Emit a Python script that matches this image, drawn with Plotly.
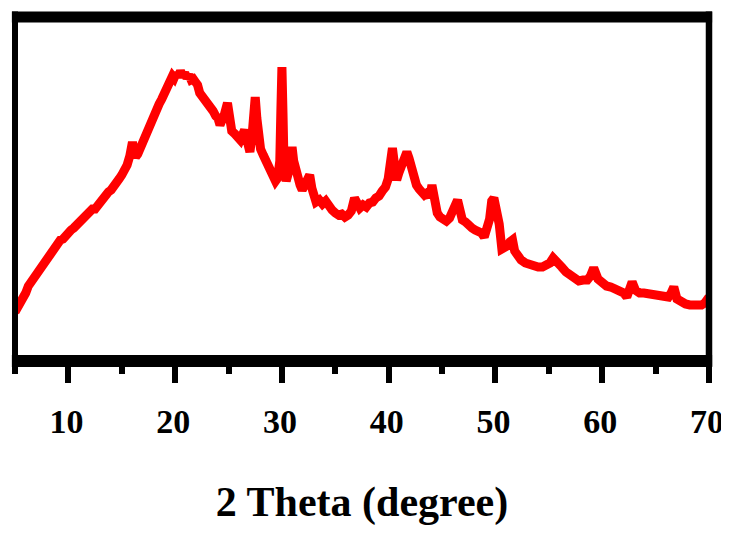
import plotly.graph_objects as go

# 2-theta positions (degree) and intensity (a.u.)
two_theta = [5.0, 5.25, 5.5, 5.75, 6.0, 6.25, 6.5, 6.75, 7.0, 7.25, 7.5, 7.75, 8.0, 8.25, 8.5, 8.75,
             9.0, 9.25, 9.5, 9.75, 10.0, 10.25, 10.5, 10.75, 11.0, 11.25, 11.5, 11.75, 12.0, 12.25,
             12.5, 12.75, 13.0, 13.25, 13.5, 13.75, 14.0, 14.25, 14.5, 14.75, 15.0, 15.25, 15.5,
             15.75, 16.0, 16.15, 16.3, 16.5, 16.75, 17.0, 17.25, 17.5, 17.75, 18.0, 18.25, 18.5,
             18.75, 19.0, 19.25, 19.5, 19.75, 19.9, 20.1, 20.3, 20.5, 20.7, 20.9, 21.1, 21.3, 21.5,
             21.7, 21.9, 22.1, 22.3, 22.55, 22.8, 23.05, 23.3, 23.55, 23.8, 24.0, 24.2, 24.4, 24.6,
             24.9, 25.1, 25.3, 25.6, 25.85, 26.1, 26.3, 26.5, 26.7, 26.85, 27.0, 27.2, 27.35, 27.5,
             27.65, 27.8, 28.0, 28.25, 28.5, 28.75, 29.0, 29.2, 29.4, 29.6, 29.8, 29.9, 30.0, 30.1,
             30.2, 30.4, 30.6, 30.8, 30.95, 31.1, 31.3, 31.5, 31.7, 31.9, 32.1, 32.35, 32.6, 32.8,
             33.0, 33.2, 33.5, 33.8, 34.1, 34.4, 34.7, 35.0, 35.3, 35.6, 35.9, 36.2, 36.5, 36.8,
             37.0, 37.3, 37.6, 37.9, 38.2, 38.5, 38.8, 39.1, 39.4, 39.7, 39.95, 40.15, 40.35, 40.55,
             40.75, 40.95, 41.2, 41.45, 41.7, 41.9, 42.1, 42.35, 42.6, 42.85, 43.1, 43.35, 43.6,
             43.85, 44.05, 44.3, 44.55, 44.8, 45.1, 45.4, 45.7, 46.0, 46.2, 46.45, 46.7, 46.9, 47.2,
             47.5, 47.8, 48.1, 48.4, 48.7, 48.95, 49.2, 49.45, 49.65, 49.85, 50.1, 50.35, 50.6,
             50.85, 51.1, 51.35, 51.6, 51.8, 52.05, 52.4, 52.8, 53.2, 53.6, 54.0, 54.4, 54.8, 55.1,
             55.4, 55.8, 56.2, 56.6, 57.0, 57.4, 57.8, 58.2, 58.6, 58.9, 59.2, 59.6, 60.0, 60.4,
             60.8, 61.2, 61.6, 62.0, 62.3, 62.55, 62.8, 63.1, 63.5, 63.9, 64.3, 64.7, 65.1, 65.5,
             65.9, 66.2, 66.45, 66.7, 67.0, 67.4, 67.8, 68.2, 68.6, 69.0, 69.3, 69.6, 69.85, 70.0]
intensity = [49, 53, 58, 64, 68, 75, 79, 85, 88, 93, 96, 101, 104, 108, 111, 114,
             117, 121, 122, 126, 128, 131, 133, 136, 138, 142, 143, 146, 148, 152,
             152, 156, 158, 162, 164, 169, 171, 176, 178, 182, 186, 190, 196,
             205, 219, 209, 204, 207, 214, 220, 227, 233, 240, 246, 252, 257,
             262, 268, 274, 279, 285, 283, 288, 284, 290, 285, 288, 283, 286, 281,
             282, 279, 276, 268, 265, 261, 257, 254, 250, 245, 243, 236, 240, 246,
             258, 236, 230, 227, 224, 221, 226, 231, 222, 214, 209, 225, 248, 264,
             243, 222, 212, 206, 201, 196, 189, 184, 180, 183, 200, 250, 294, 248,
             195, 180, 188, 205, 214, 200, 190, 181, 176, 171, 176, 182, 186, 173,
             165, 159, 161, 157, 160, 153, 151, 148, 146, 147, 144, 146, 150, 163,
             156, 153, 156, 154, 158, 159, 163, 165, 170, 174, 182, 200, 213, 196,
             181, 188, 197, 203, 209, 203, 192, 182, 176, 172, 170, 166, 168,
             164, 176, 158, 148, 144, 142, 140, 143, 148, 155, 161, 150, 141, 139,
             135, 133, 131, 130, 128, 124, 132, 142, 160, 163, 150, 137, 112,
             113, 115, 119, 121, 110, 104, 101, 98, 96, 95, 94, 94, 95, 98, 103,
             97, 94, 89, 85, 82, 80, 81, 81, 85, 93, 82, 78, 75, 74,
             72, 71, 68, 64, 70, 79, 71, 68, 68, 67, 68, 66, 64, 63,
             64, 68, 74, 62, 58, 57, 56, 56, 55, 56, 58, 60, 64, 68]

tick_vals = [10, 20, 30, 40, 50, 60, 70]
tick_text = ["10", "20", "30", "40", "50", "60", "70"]
x_title = "2 Theta (degree)"

fig = go.Figure()
fig.add_trace(go.Scatter(x=two_theta, y=intensity, mode="lines",
                         line=dict(color="#ff0000", width=9), showlegend=False,
                         cliponaxis=False))

frame = [
    dict(x0=-0.0045, x1=1.0045, y0=1, y1=1, w=11),
    dict(x0=-0.0045, x1=1.0045, y0=0, y1=0, w=12),
    dict(x0=0, x1=0, y0=-0.017, y1=1.016, w=6),
    dict(x0=1, x1=1, y0=-0.017, y1=1.016, w=6.5),
]
for f in frame:
    fig.add_shape(type="line", xref="paper", yref="paper", x0=f["x0"], x1=f["x1"],
                  y0=f["y0"], y1=f["y1"], line=dict(color="black", width=f["w"]),
                  layer="above")

tfont = dict(family="Liberation Serif, Times New Roman, serif", color="black", weight="bold")

fig.update_layout(
    width=721, height=531, autosize=False,
    margin=dict(l=6.5, r=19.5, t=9, b=178),
    paper_bgcolor="white", plot_bgcolor="white",
    xaxis=dict(range=[5, 70], tickmode="array", tickvals=tick_vals, ticktext=tick_text,
               ticks="outside", ticklen=21, tickwidth=6, tickcolor="black",
               minor=dict(ticks="outside", ticklen=12, tickwidth=6, tickcolor="black",
                          dtick=5, tick0=5, showgrid=False),
               showline=False, showgrid=False, zeroline=False, automargin=False,
               ticklabeloverflow="allow", ticklabelshift=-2,
               tickfont=dict(size=34, **tfont), ticklabelstandoff=9,
               title=dict(text=x_title, font=dict(size=42, **tfont), standoff=47)),
    yaxis=dict(range=[0, 344], showticklabels=False, ticks="", showline=False,
               showgrid=False, zeroline=False, automargin=False),
)

fig.write_html("out.html")
